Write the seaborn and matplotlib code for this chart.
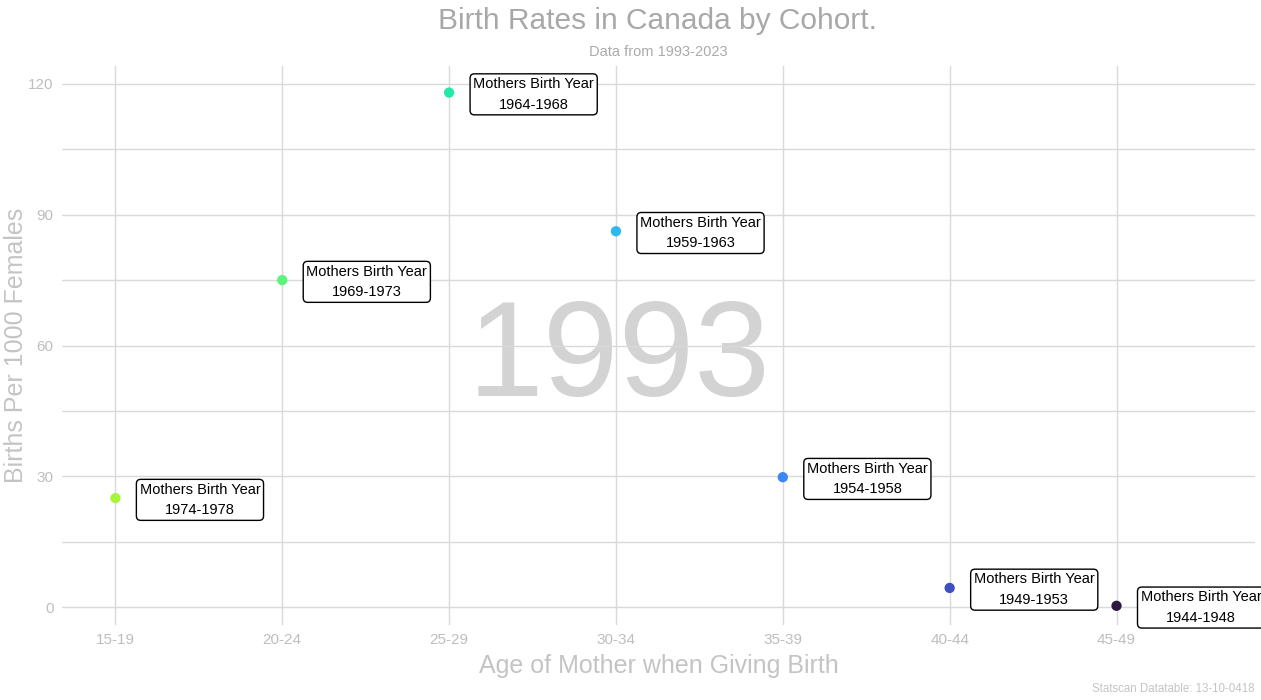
import pandas as pd
import matplotlib
matplotlib.use("Agg")
import matplotlib.pyplot as plt
import seaborn as sns

age_groups = ["15-19", "20-24", "25-29", "30-34", "35-39", "40-44", "45-49"]
birth_rates = [25.0, 75.0, 118.0, 86.2, 29.8, 4.4, 0.3]
cohorts = ["1974-1978", "1969-1973", "1964-1968", "1959-1963",
           "1954-1958", "1949-1953", "1944-1948"]
frame_year = "1993"
point_colors = ["#A6F53C", "#5AF57A", "#22E8A8", "#2DB8EE",
                "#3D86F5", "#3E4FC0", "#2E1842"]

df = pd.DataFrame({"age": age_groups, "rate": birth_rates, "cohort": cohorts})

sns.set_theme(style="white")
plt.rcParams["font.family"] = ["Liberation Sans", "DejaVu Sans"]

fig = plt.figure(figsize=(12.61, 7.0), dpi=100)
ax = fig.add_axes([62 / 1261, 1 - 625 / 700, (1255 - 62) / 1261, (625 - 66) / 700])

grid_col = "#D9D9D9"
# big year watermark behind everything
ax.text(3.02, 56.5, frame_year, fontsize=98, color="#D3D3D3",
        ha="center", va="center", zorder=0)

sns.scatterplot(data=df, x="age", y="rate", hue="age", palette=point_colors,
                s=55, edgecolor="none", legend=False, ax=ax, zorder=3)

for i, row in df.iterrows():
    ax.text(i + 0.145, row["rate"] - 0.4, "Mothers Birth Year\n" + row["cohort"],
            fontsize=10.5, color="black", ha="left", va="center",
            multialignment="center", linespacing=1.6, zorder=4,
            bbox=dict(boxstyle="round,pad=0.22,rounding_size=0.3",
                      fc="white", ec="black", lw=1))

ax.set_xlim(-0.32, 6.83)
ax.set_ylim(-4.1, 124.1)
ax.set_yticks([0, 30, 60, 90, 120])
ax.set_yticks([15, 45, 75, 105], minor=True)
ax.grid(True, which="major", color=grid_col, lw=1, zorder=1)
ax.grid(True, which="minor", axis="y", color=grid_col, lw=1, zorder=1)
ax.set_axisbelow(True)
for s in ax.spines.values():
    s.set_visible(False)
ax.tick_params(axis="both", which="both", length=0, labelsize=11,
               labelcolor="#BEBEBE", pad=6)

ax.set_xlabel("Age of Mother when Giving Birth", fontsize=18, color="#C4C4C4")
ax.set_ylabel("Births Per 1000 Females", fontsize=18, color="#C4C4C4")
ax.xaxis.set_label_coords(0.5, -(666 - 625) / 559, transform=ax.transAxes)
ax.yaxis.set_label_coords(-(62 - 16) / 1193, 0.5, transform=ax.transAxes)
ax.xaxis.label.set_va("center")
ax.yaxis.label.set_va("center")

fig.text(658 / 1261, 1 - 21 / 700, "Birth Rates in Canada by Cohort.",
         fontsize=21.5, color="#A8A8A8", ha="center", va="center")
fig.text(658 / 1261, 1 - 52 / 700, "Data from 1993-2023",
         fontsize=10.5, color="#AAAAAA", ha="center", va="center")
fig.text(1255 / 1261, 1 - 689 / 700, "Statscan Datatable: 13-10-0418",
         fontsize=8.3, color="#C4C4C4", ha="right", va="center")

fig.savefig("out.png", dpi=100, facecolor="white")
